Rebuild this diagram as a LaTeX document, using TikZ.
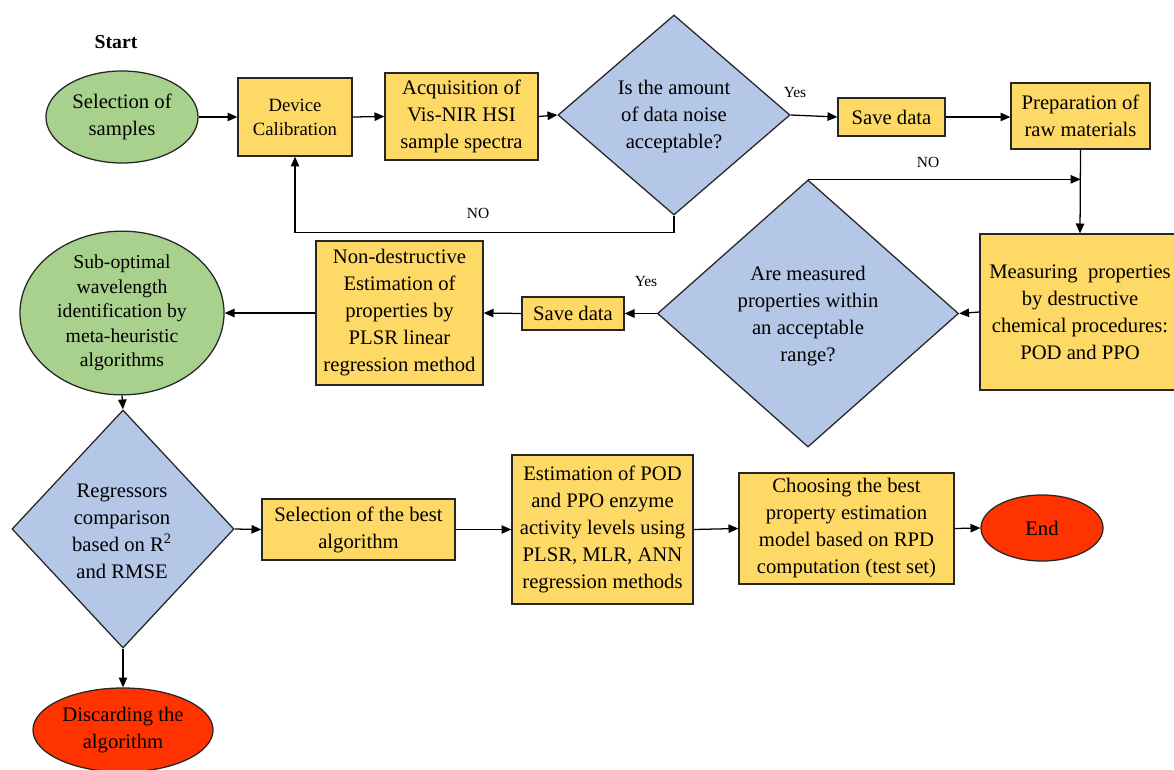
\documentclass[tikz,border=0pt]{standalone}
\usepackage{fontspec}
\setmainfont{Liberation Serif}
\usepackage{tikz}
\usetikzlibrary{arrows.meta, shapes.geometric, positioning}

\definecolor{boxyellow}{HTML}{FFD966}
\definecolor{ovalgreen}{HTML}{A9D18E}
\definecolor{diamblue}{HTML}{B4C7E7}
\definecolor{ovalred}{HTML}{FF3300}

\tikzset{
    txt/.style={font=\fontsize{14.7}{19.2}\selectfont, align=center},
    smalltxt/.style={font=\fontsize{14}{17.4}\selectfont, align=center},
    procbox/.style={draw=black!85, line width=0.9pt, fill=boxyellow, inner sep=2pt},
    decision/.style={diamond, draw=black!85, line width=0.9pt, fill=diamblue, inner sep=0pt},
    terminal/.style={ellipse, draw=black!85, line width=0.9pt, inner sep=0pt},
    arr/.style={-{Triangle[length=7pt,width=6pt]}, line width=0.9pt},
    lbl/.style={font=\fontsize{11}{13}\selectfont}
}

\begin{document}
\begin{tikzpicture}[x=0.025cm, y=-0.025cm]
        \useasboundingbox (0,0) rectangle (1174,769);
        \clip (0,0) rectangle (1174,769);

        % First row
        \node[font=\fontsize{14}{17}\selectfont\bfseries] (start) at (116,42) {Start};
        \node[terminal, fill=ovalgreen, minimum width=3.8cm, minimum height=2.3cm, txt] (sel) at (122,117) {Selection of\\samples};
        \node[procbox, minimum width=2.85cm, minimum height=1.95cm, font=\fontsize{13.3}{17}\selectfont, align=center] (calib) at (295,117) {Device\\Calibration};
        \node[procbox, minimum width=3.825cm, minimum height=2.175cm, txt] (acq) at (461.5,116.5) {Acquisition of\\Vis-NIR HSI\\sample spectra};
        \node[decision, minimum width=5.8cm, minimum height=5cm] (noise) at (674,115) {};
        \node[txt] (noisetxt) at (674,117) {Is the amount\\of data noise\\acceptable?};
        \node[procbox, minimum width=2.675cm, minimum height=0.95cm, txt] (save1) at (891.5,117) {Save data};
        \node[procbox, minimum width=3.475cm, minimum height=1.65cm, txt] (prep) at (1080.5,116) {Preparation of\\raw materials};

        % Second row
        \node[procbox, minimum width=5cm, minimum height=3.9cm, txt] (meas) at (1080,312) {Measuring\ \ properties\\by destructive\\chemical procedures:\\POD and PPO};
        \node[decision, minimum width=7.525cm, minimum height=6.675cm] (range) at (808,313.5) {};
        \node[txt] (rangetxt) at (808,316) {Are measured\\properties within\\an acceptable\\range?};
        \node[procbox, minimum width=2.55cm, minimum height=0.825cm, txt] (save2) at (573,313.5) {Save data};
        \node[procbox, minimum width=4.175cm, minimum height=3.6cm, txt] (nondes) at (399.5,313) {Non-destructive\\Estimation of\\properties by\\PLSR linear\\regression method};
        \node[terminal, fill=ovalgreen, minimum width=5.1cm, minimum height=3.35cm, smalltxt] (subopt) at (122,313) {Sub-optimal\\wavelength\\identification by\\meta-heuristic\\algorithms};

        % Third row
        \node[decision, minimum width=5.55cm, minimum height=5.95cm] (regr) at (123,529) {};
        \node[txt] (regrtxt) at (122,531) {Regressors\\comparison\\based on R\textsuperscript{2}\\and RMSE};
        \node[procbox, minimum width=4.825cm, minimum height=1.525cm, txt] (best) at (358.5,529.5) {Selection of the best\\algorithm};
        \node[procbox, minimum width=4.525cm, minimum height=3.725cm, txt] (est) at (602.5,529.5) {Estimation of POD\\and PPO enzyme\\activity levels using\\PLSR, MLR, ANN\\regression methods};
        \node[procbox, minimum width=5.375cm, minimum height=2.775cm, txt] (choose) at (846.5,528.5) {Choosing the best\\property estimation\\model based on RPD\\computation (test set)};
        \node[terminal, fill=ovalred, minimum width=3.05cm, minimum height=1.65cm, txt] (endn) at (1042,528) {End};
        \node[terminal, fill=ovalred, minimum width=4.5cm, minimum height=2.1cm, txt] (disc) at (123,730) {Discarding the\\algorithm};

        % Connectors
        \draw[arr] (sel.east) -- (calib.west);
        \draw[arr] (calib.east) -- (acq.west);
        \draw[arr] (acq.east) -- (noise.west);
        \draw[arr] (noise.east) -- (save1.west);
        \draw[arr] (save1.east) -- (save1.east -| prep.west);
        \draw[arr] (prep.south) -- (meas.north);
        \draw[arr] (noise.south) -- ++(0,17) -| (calib.south);
        \draw[arr] (range.north) -- (range.north -| prep.south);
        \draw[arr] (meas.west) -- (range.east);
        \draw[arr] (range.west) -- (save2.east);
        \draw[arr] (save2.west) -- (nondes.east);
        \draw[arr] (nondes.west) -- (subopt.east);
        \draw[arr] (subopt.south) -- (regr.north);
        \draw[arr] (regr.east) -- (best.west);
        \draw[arr] (best.east) -- (est.west);
        \draw[arr] (est.east) -- (choose.west);
        \draw[arr] (choose.east) -- (endn.west);
        \draw[arr] (regr.south) -- (disc.north);

        % Labels
        \node[lbl] (yes1) at (795,93) {Yes};
        \node[lbl] (no1) at (478,213) {NO};
        \node[lbl] (no2) at (928,162) {NO};
        \node[lbl] (yes2) at (646,282) {Yes};
    \end{tikzpicture}
\end{document}
